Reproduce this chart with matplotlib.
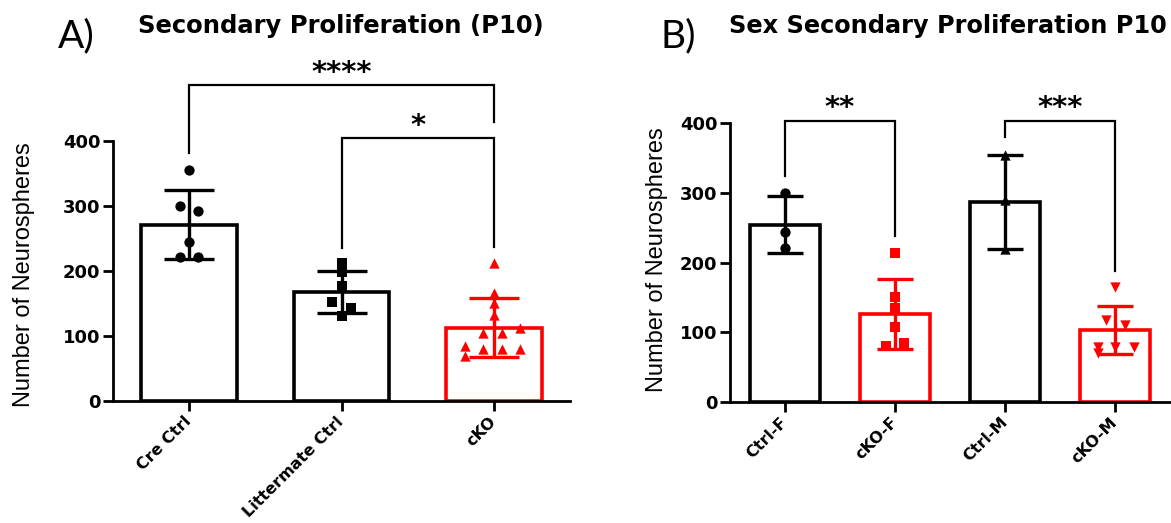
import matplotlib
matplotlib.use("Agg")
import matplotlib.pyplot as plt
import numpy as np

# Panel A - Secondary Proliferation (P10)
groups_a = ["Cre Ctrl", "Littermate Ctrl", "cKO"]
means_a = [271, 168, 113]
sd_a = [53, 32, 45]
points_a = [
    [355, 300, 293, 245, 222, 222],
    [212, 199, 177, 153, 143, 131],
    [212, 166, 151, 133, 105, 105, 113, 84, 80, 80, 80, 69],
]

# Panel B - Sex Secondary Proliferation P10
groups_b = ["Ctrl-F", "cKO-F", "Ctrl-M", "cKO-M"]
means_b = [254, 126, 287, 103]
sd_b = [41, 50, 67, 35]
points_b = [
    [300, 244, 221],
    [213, 151, 134, 107, 80, 85],
    [354, 290, 220],
    [165, 117, 110, 79, 79, 79, 70],
]

# significance: (left group, right group, bracket top, left leg end, right leg end, label)
sig_a = [(0, 2, 486, 382, 429, "****"), (1, 2, 405, 235, 237, "*")]
sig_b = [(0, 1, 404, 324, 238, "**"), (2, 3, 404, 380, 188, "***")]

# horizontal scatter offsets of the dots (as drawn by the original)
jit_a = [[0, -0.06, 0.06, 0, -0.06, 0.06],
         [0, 0, 0, -0.06, 0.06, 0],
         [0, 0, 0, 0, -0.07, 0.055, 0.17, -0.19, -0.07, 0.055, 0.17, -0.19]]
jit_b = [[0, 0, 0],
         [0, 0, 0, 0, -0.085, 0.086],
         [0, 0, 0],
         [0, -0.08, 0.09, -0.15, 0, 0.17, -0.15]]

RED = "#ff0000"
TICKFONT = "DejaVu Sans"

fig = plt.figure(figsize=(11.71, 5.23), dpi=100)
W, H = 1171, 523


def panel(rect, groups, means, sd, points, jit, colors, markers, capsize, sig):
    ax = fig.add_axes(rect)
    x = np.arange(len(groups))
    ax.bar(x, means, width=0.63, color="white", edgecolor=colors, linewidth=2.6, zorder=1)
    for i in range(len(groups)):
        ax.scatter(x[i] + np.array(jit[i]), points[i], marker=markers[i], s=55,
                   color=colors[i], zorder=2, clip_on=False, linewidths=0)
        ax.errorbar(x[i], means[i], yerr=sd[i], fmt="none", ecolor=colors[i],
                    elinewidth=2.4, capsize=capsize, capthick=2.4, zorder=3)
    for g0, g1, top, l0, l1, lab in sig:
        ax.plot([g0, g0, g1, g1], [l0, top, top, l1], color="black", lw=1.6,
                clip_on=False, solid_joinstyle="miter")
        ax.text((g0 + g1) / 2, top + 6, lab, ha="center", va="baseline",
                fontsize=21, fontweight="bold", family=TICKFONT)
    ax.set_xlim(-0.5, len(groups) - 0.5)
    ax.set_ylim(0, 400)
    ax.set_yticks([0, 100, 200, 300, 400])
    ax.set_xticks(x)
    ax.set_xticklabels(groups, rotation=45, ha="right", va="center",
                       rotation_mode="anchor", fontsize=11.5, fontweight="bold",
                       family=TICKFONT)
    for lab in ax.get_yticklabels():
        lab.set_fontsize(13)
        lab.set_fontweight("bold")
        lab.set_family(TICKFONT)
    for s in ["top", "right"]:
        ax.spines[s].set_visible(False)
    for s in ["left", "bottom"]:
        ax.spines[s].set_linewidth(2)
    ax.tick_params(axis="y", length=7, width=2, pad=2)
    ax.tick_params(axis="x", length=7, width=2, pad=6)
    return ax


ax_a = panel([113 / W, 1 - 401 / H, 457 / W, 260 / H], groups_a, means_a, sd_a,
             points_a, jit_a, ["black", "black", RED], ["o", "s", "^"], 18, sig_a)
ax_b = panel([730 / W, 1 - 401.7 / H, 440 / W, 278.4 / H], groups_b, means_b, sd_b,
             points_b, jit_b, ["black", RED, "black", RED], ["o", "s", "^", "v"], 13, sig_b)

fig.text(24 / W, 1 - 275 / H, "Number of Neurospheres", rotation=90, ha="center",
         va="center", fontsize=17, family="Liberation Sans")
fig.text(657 / W, 1 - 260 / H, "Number of Neurospheres", rotation=90, ha="center",
         va="center", fontsize=17, family="Liberation Sans")

fig.text(341 / W, 1 - 33 / H, "Secondary Proliferation (P10)", ha="center",
         va="baseline", fontsize=17.5, fontweight="bold", family=TICKFONT)
fig.text(948 / W, 1 - 33 / H, "Sex Secondary Proliferation P10", ha="center",
         va="baseline", fontsize=17.3, fontweight="bold", family=TICKFONT)

fig.text(58 / W, 1 - 47 / H, "A)", ha="left", va="baseline", fontsize=28, family="Lato")
fig.text(660 / W, 1 - 47 / H, "B)", ha="left", va="baseline", fontsize=28, family="Lato")

fig.savefig("out.png", dpi=100)
